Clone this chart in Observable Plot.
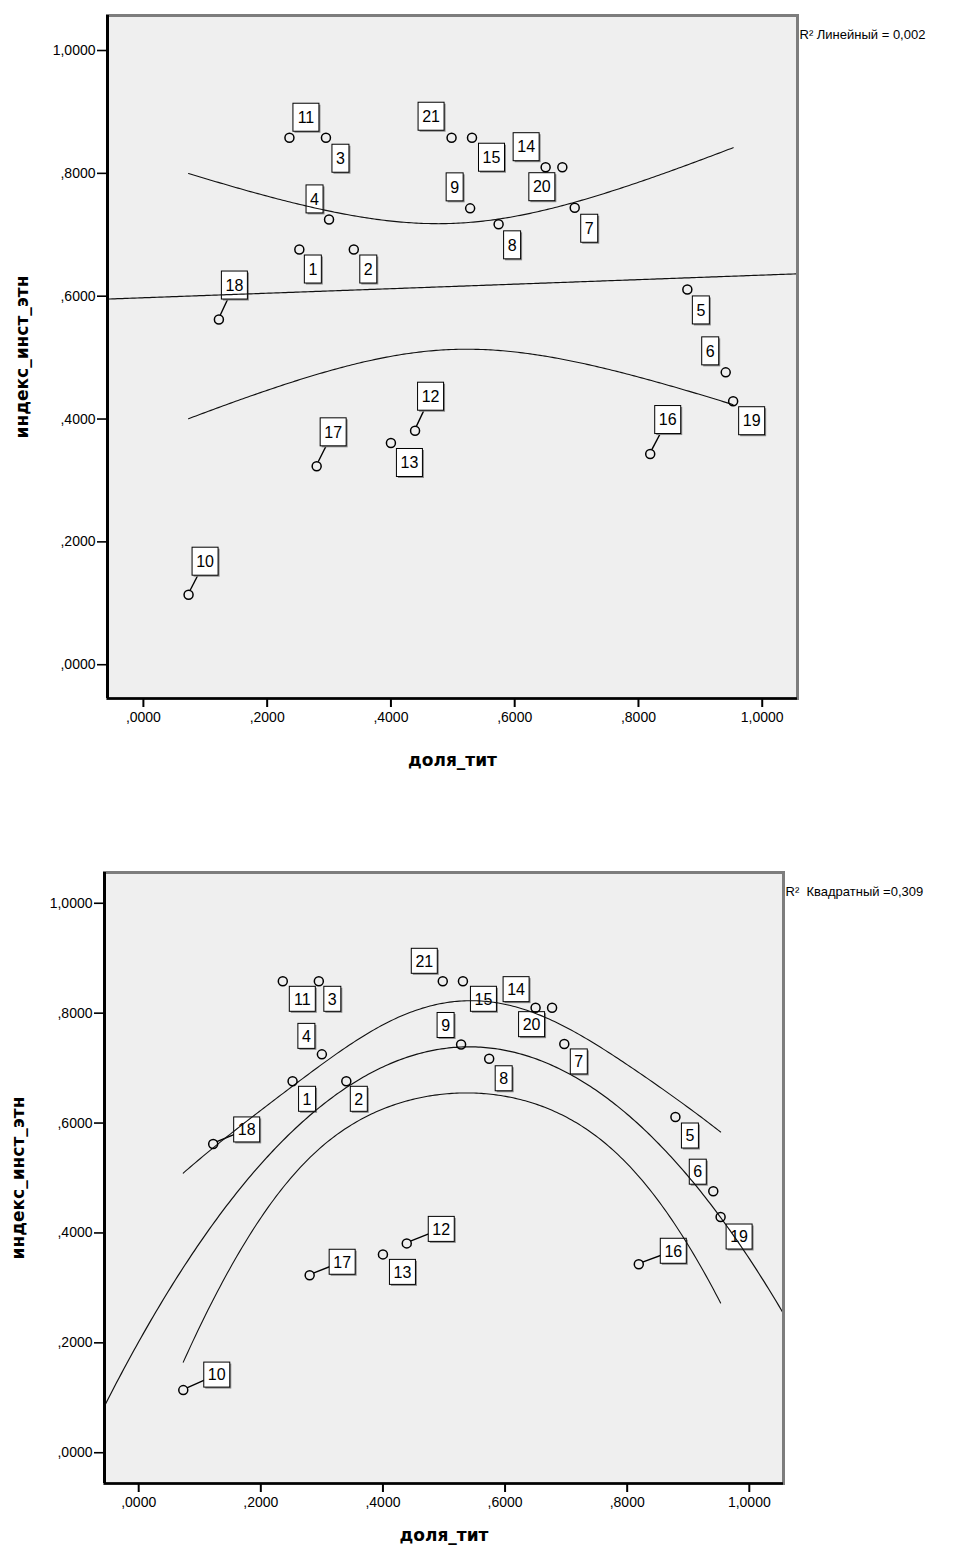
<!DOCTYPE html>
<html><head><meta charset="utf-8">
<script src="https://cdn.jsdelivr.net/npm/d3@7"></script>
<script src="https://cdn.jsdelivr.net/npm/@observablehq/plot@0.6"></script>
<style>
body{margin:0;background:#fff;width:969px;}
#chart svg{display:block}
</style></head><body><div id="chart"></div>
<script>
// ---- data ----
const caseIds = [1,2,3,4,5,6,7,8,9,10,11,12,13,14,15,16,17,18,19,20,21];
const dolyaTit = [0.252,0.340,0.295,0.300,0.879,0.941,0.697,0.574,0.528,0.073,0.236,0.439,0.400,0.650,0.531,0.819,0.280,0.122,0.953,0.677,0.498];
const indeksInstEtn = [0.676,0.676,0.858,0.725,0.611,0.476,0.744,0.717,0.743,0.114,0.858,0.381,0.361,0.810,0.858,0.343,0.323,0.562,0.429,0.810,0.858];
const xTicks = [0,0.2,0.4,0.6,0.8,1];
const yTicks = [0,0.2,0.4,0.6,0.8,1];
const xTitle = "доля_тит";
const yTitle = "индекс_инст_этн";
const r2LinearText = "R² Линейный = 0,002";
const r2QuadText = "R²  Квадратный =0,309";

// ---- label layout (pixel offsets of each case-number box from its point) ----
const labelOffsetTop = [[14,20],[15,20],[15,21],[-14,-20],[14,21],[-15,-21],[15,21],[14,21],[-15,-21],[17,-33],[17,-20],[16,-34],[19,20],[-19,-20],[20,20],[18,-34],[17,-34],[16,-34],[19,20],[-20,20],[-20,-21]];
const labelOffsetBottom = [[15,18],[13,18],[14,18],[-15,-18],[15,19],[-15,-19],[15,18],[15,20],[-15,-19],[34,-15],[20,18],[35,-14],[20,18],[-19,-18],[21,18],[35,-13],[33,-13],[34,-14],[19,20],[-20,17],[-18,-20]];
const leaderCases = [10,12,16,17,18];

const pts = caseIds.map((id,i)=>({id, x: dolyaTit[i], y: indeksInstEtn[i]}));
const fmt = v => d3.format(".4f")(v).replace(/^0\./, ",").replace(".", ",");

// ---- regression (least squares) ----
function polyFit(xs, ys, deg){
  const n = xs.length, p = deg+1;
  const A = Array.from({length:p},()=>new Array(p).fill(0));
  const b = new Array(p).fill(0);
  for (let i=0;i<n;i++){
    for (let j=0;j<p;j++){
      b[j] += Math.pow(xs[i],j)*ys[i];
      for (let k=0;k<p;k++) A[j][k] += Math.pow(xs[i],j+k);
    }
  }
  const M = A.map((r,i)=>r.concat(Array.from({length:p},(_,k)=>k===i?1:0)));
  for (let c=0;c<p;c++){
    let piv=c; for (let r=c+1;r<p;r++) if (Math.abs(M[r][c])>Math.abs(M[piv][c])) piv=r;
    [M[c],M[piv]]=[M[piv],M[c]];
    const d=M[c][c]; for (let k=0;k<2*p;k++) M[c][k]/=d;
    for (let r=0;r<p;r++) if (r!==c){ const f=M[r][c]; for (let k=0;k<2*p;k++) M[r][k]-=f*M[c][k]; }
  }
  const inv = M.map(r=>r.slice(p));
  const beta = inv.map(r=>r.reduce((s,v,k)=>s+v*b[k],0));
  const pred = x0 => beta.reduce((s,bj,j)=>s+bj*Math.pow(x0,j),0);
  let sse=0; for (let i=0;i<n;i++) sse += (ys[i]-pred(xs[i]))**2;
  const s2 = sse/(n-p);
  const se = x0 => { const v=beta.map((_,j)=>Math.pow(x0,j)); let q=0; for (let j=0;j<p;j++) for (let k=0;k<p;k++) q+=v[j]*inv[j][k]*v[k]; return Math.sqrt(s2*q); };
  return {pred, se, df:n-p};
}
// band multipliers: 95% t for the linear fit; the quadratic band in the reference is narrower
const bandMult = {1: 2.093, 2: 1.39};

function curves(deg, domain){
  const f = polyFit(dolyaTit, indeksInstEtn, deg);
  const t = bandMult[deg];
  const step = 0.004;
  const fitPts = d3.range(domain[0], domain[1]+step/2, step).map(x=>({x, y:f.pred(x)}));
  const [xmin,xmax] = d3.extent(dolyaTit);
  const ciX = d3.range(xmin, xmax, step).concat([xmax]);
  const upper = ciX.map(x=>({x, y:f.pred(x)+t*f.se(x)}));
  const lower = ciX.map(x=>({x, y:f.pred(x)-t*f.se(x)}));
  return {fitPts, upper, lower};
}

function labelMark(offsets, boxH){
  return (index, scales) => {
    const g = d3.create("svg:g");
    pts.forEach((p,i)=>{
      const px = scales.x(p.x), py = scales.y(p.y);
      const [dx,dy] = offsets[i];
      const cx = px+dx, cy = py+dy;
      const w = String(p.id).length>1 ? 26 : 17, h = boxH;
      if (leaderCases.includes(p.id)){
        const len = Math.hypot(dx,dy);
        g.append("line").attr("x1",px+dx/len*4.5).attr("y1",py+dy/len*4.5)
          .attr("x2",cx).attr("y2",cy).attr("stroke","#000").attr("stroke-width",1.4);
      }
      g.append("rect").attr("x",cx-w/2+1.5).attr("y",cy-h/2+1.5).attr("width",w).attr("height",h).attr("fill","#8a8a8a");
      g.append("rect").attr("x",cx-w/2).attr("y",cy-h/2).attr("width",w).attr("height",h)
        .attr("fill","#fff").attr("stroke","#000").attr("stroke-width",1);
      g.append("text").attr("x",cx).attr("y",cy).attr("dy","0.36em").attr("text-anchor","middle")
        .attr("font-family","'Liberation Sans Narrow','Liberation Sans',sans-serif").attr("font-size",16)
        .attr("fill","#000").text(p.id);
    });
    return g.node();
  };
}

function chart({height, marginTop, marginBottom, marginLeft, marginRight, xDomain, yDomain, deg, offsets, boxH, r2, titleDy, yTitleDx}){
  const c = curves(deg, xDomain);
  return Plot.plot({
    width: 969, height, marginTop, marginBottom, marginLeft, marginRight,
    style: {fontFamily: "'Liberation Sans', Arial, sans-serif", color: "#000", background: "#fff", overflow: "visible"},
    x: {domain: xDomain},
    y: {domain: yDomain},
    marks: [
      Plot.frame({fill: "#efefef", stroke: "none"}),
      labelMark(offsets, boxH),
      Plot.line(c.fitPts, {x:"x", y:"y", stroke:"#111", strokeWidth:1.2, clip:true}),
      Plot.line(c.upper, {x:"x", y:"y", stroke:"#111", strokeWidth:1.1, clip:true}),
      Plot.line(c.lower, {x:"x", y:"y", stroke:"#111", strokeWidth:1.1, clip:true}),
      Plot.dot(pts, {x:"x", y:"y", r:4.5, stroke:"#000", strokeWidth:1.5, fill:"none"}),
      Plot.frame({stroke: "#7d7d7d", strokeWidth: 3}),
      Plot.ruleX([xDomain[0]], {stroke:"#000", strokeWidth:3}),
      Plot.ruleY([yDomain[0]], {stroke:"#000", strokeWidth:2.5}),
      Plot.axisX({ticks: xTicks, tickFormat: fmt, tickSize: 9, tickPadding: 5, strokeWidth: 2, fontSize: 14, label: null}),
      Plot.axisY({ticks: yTicks, tickFormat: fmt, tickSize: 10, tickPadding: 2, strokeWidth: 1.6, fontSize: 14, label: null}),
      Plot.text([r2], {frameAnchor: "top-right", textAnchor: "start", dx: 2, dy: 14, fontSize: 13, fill: "#000"}),
      Plot.text([xTitle], {frameAnchor: "bottom", dy: titleDy, fontSize: 17, fontWeight: "bold", fontFamily: "'DejaVu Sans', sans-serif", fill:"#000"}),
      Plot.text([yTitle], {frameAnchor: "left", textAnchor: "middle", dx: yTitleDx, rotate: -90, fontSize: 17, fontWeight: "bold", fontFamily: "'DejaVu Sans', sans-serif", fill:"#000"})
    ]
  });
}

const chartTop = chart({
  height: 790, marginTop: 15, marginBottom: 92, marginLeft: 107, marginRight: 172,
  xDomain: [-0.058, 1.057], yDomain: [-0.055, 1.057], deg: 1,
  offsets: labelOffsetTop, boxH: 28, r2: r2LinearText, titleDy: 67, yTitleDx: -85
});
const chartBottom = chart({
  height: 757, marginTop: 82, marginBottom: 64, marginLeft: 104, marginRight: 186,
  xDomain: [-0.056, 1.056], yDomain: [-0.056, 1.056], deg: 2,
  offsets: labelOffsetBottom, boxH: 25, r2: r2QuadText, titleDy: 57, yTitleDx: -86
});
document.getElementById("chart").append(chartTop, chartBottom);
</script></body></html>
